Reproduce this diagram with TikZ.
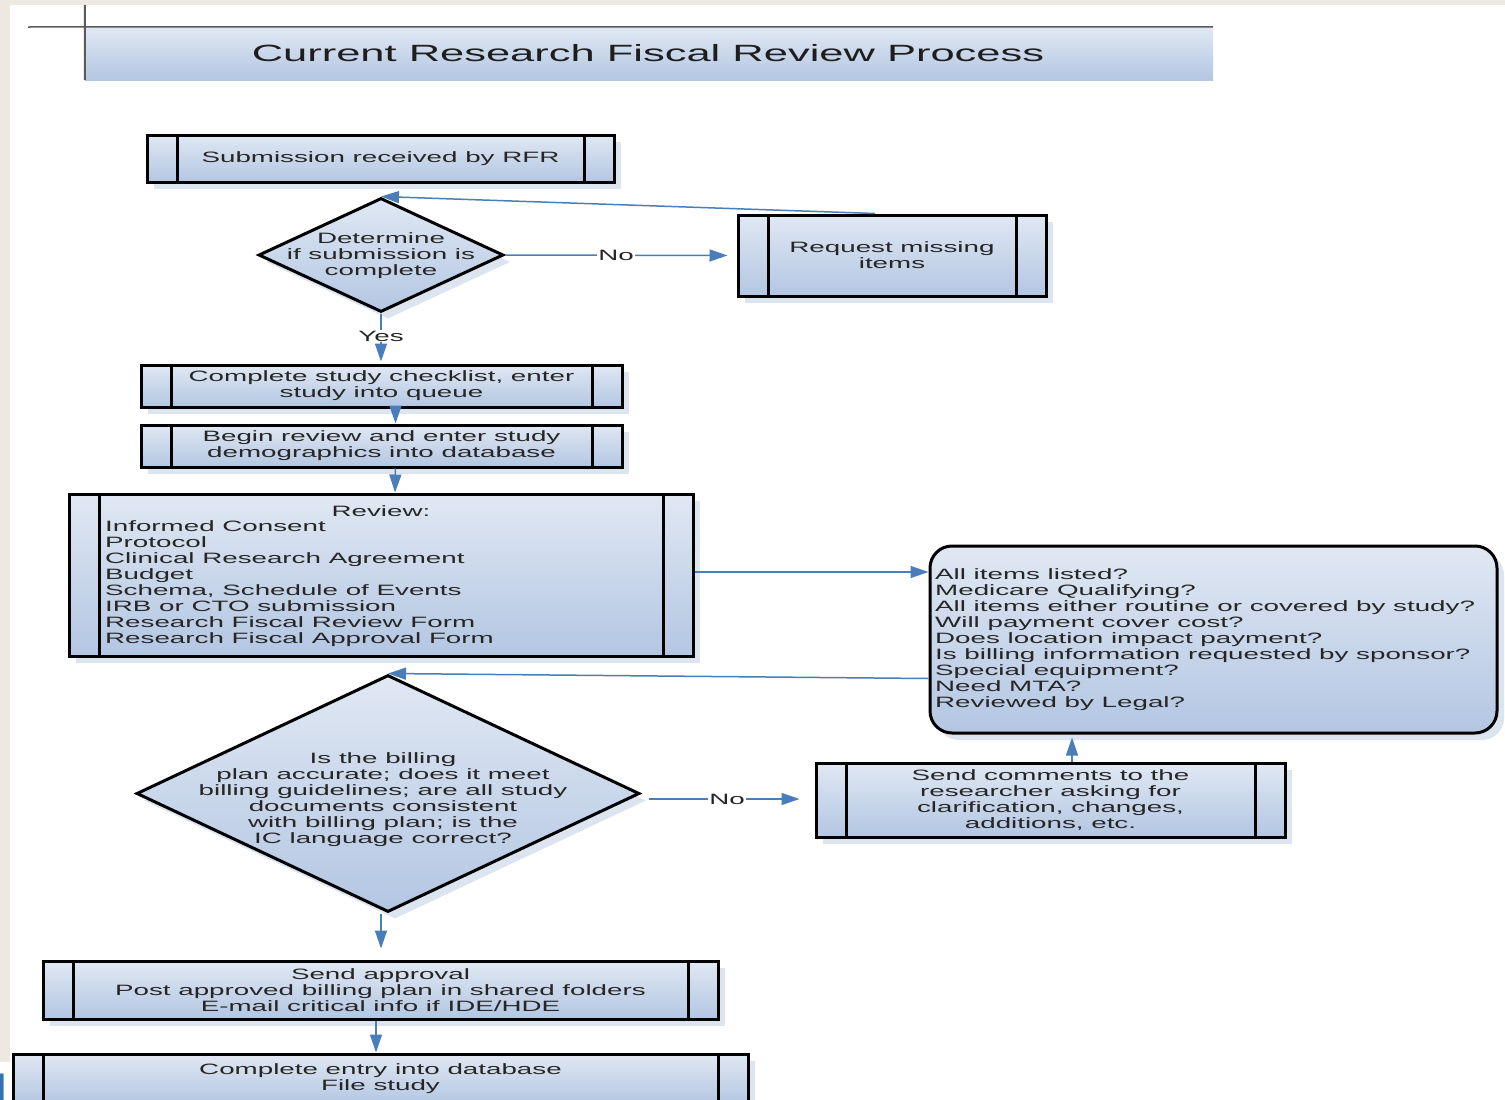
\documentclass[tikz,border=0pt]{standalone}
\usepackage{fontspec}
\setmainfont[FakeStretch=1.85]{Liberation Sans}
\usetikzlibrary{shapes.geometric,arrows.meta,shadows,calc}
\definecolor{beige}{HTML}{EEE8E2}
\definecolor{boxtop}{HTML}{E0E8F3}
\definecolor{boxbot}{HTML}{B3C6E2}
\definecolor{shadowc}{HTML}{DCE4F0}
\definecolor{linec}{HTML}{4A7EBB}
\definecolor{textc}{HTML}{262626}
\definecolor{titlec}{HTML}{1E1E1E}
\definecolor{framec}{HTML}{5A5A5A}
\definecolor{logoc}{HTML}{2E74B5}
\tikzset{
  txt/.style={font=\fontsize{15}{16}\selectfont, text=textc, align=center, inner sep=0pt},
  listtxt/.style={font=\fontsize{15}{16}\selectfont, text=textc, align=left, inner sep=0pt},
  shade/.style={top color=boxtop, bottom color=boxbot},
  shad/.style={drop shadow={shadow xshift=7pt, shadow yshift=-7pt, fill=shadowc, opacity=1}},
  proc/.style={txt, draw=black, line width=3pt, shade, shad,
    path picture={
      \draw[line width=3pt] ([xshift=30pt]path picture bounding box.north west) -- ([xshift=30pt]path picture bounding box.south west);
      \draw[line width=3pt] ([xshift=-30pt]path picture bounding box.north east) -- ([xshift=-30pt]path picture bounding box.south east);
    }},
  dia/.style={shape=diamond, draw=black, line width=3pt, shade, shad, inner sep=0pt},
  rbox/.style={draw=black, line width=3pt, rounded corners=22pt, shade, shad, inner sep=0pt},
  conn/.style={draw=linec, line width=1.5pt, -{Triangle[length=18pt,width=12pt]}},
  lab/.style={txt, fill=white, inner sep=1pt},
}
\begin{document}
\begin{tikzpicture}[x=1pt,y=-1pt]
\useasboundingbox (0,0) rectangle (1505,1100);
% background
\fill[beige] (0,0) rectangle (1505,1100);
\fill[white] (10,5) rectangle (1505,1100);
\fill[white] (0,1062) rectangle (10,1100);
\begin{scope}
  \clip (0,1062) rectangle (10,1100);
  \node[font=\fontsize{40}{40}\selectfont, text=logoc, anchor=east, inner sep=0pt] (mfrag) at (10,1088) {M};
\end{scope}
% title
\node[shade, minimum width=1128, minimum height=53, inner sep=0pt] (band) at (649,53.5) {};
\coordinate (tl) at (28,27);
\coordinate (vt) at (85,5);
\draw[framec, line width=1.5pt] (tl) -- (band.north east);
\draw[framec, line width=2pt] (vt) -- (band.south west);
\node[font=\fontsize{23.5}{26}\selectfont, text=titlec, inner sep=0pt] (title) at (648,53) {Current Research Fiscal Review Process};
% nodes
\node[proc, minimum width=467, minimum height=47] (sub) at (380.5,158.5) {Submission received by RFR};
\node[dia, minimum width=245, minimum height=114] (d1) at (381,255) {};
\node[txt] (d1t) at (381,255.5) {Determine\\if submission is\\complete};
\node[proc, minimum width=308, minimum height=81] (req) at (892,255.5) {Request missing\\items};
\node[proc, minimum width=481, minimum height=42] (chk) at (381.5,386) {Complete study checklist, enter\\study into queue};
\node[proc, minimum width=481, minimum height=42] (beg) at (381.5,446) {Begin review and enter study\\demographics into database};
\node[proc, minimum width=624, minimum height=162] (rev) at (381,575) {};
\node[txt] (revt) at (381,511.5) {Review:};
\node[listtxt, anchor=west] (revl) at (105,583.5) {Informed Consent\\Protocol\\Clinical Research Agreement\\Budget\\Schema, Schedule of Events\\IRB or CTO submission\\Research Fiscal Review Form\\Research Fiscal Approval Form};
\node[rbox, minimum width=567, minimum height=187] (qs) at (1213.5,639.5) {};
\node[listtxt, anchor=west] (qst) at (935,639.5) {All items listed?\\Medicare Qualifying?\\All items either routine or covered by study?\\Will payment cover cost?\\Does location impact payment?\\Is billing information requested by sponsor?\\Special equipment?\\Need MTA?\\Reviewed by Legal?};
\node[dia, minimum width=503, minimum height=237] (d2) at (388,793.5) {};
\node[txt] (d2t) at (383,799.5) {Is the billing\\plan accurate; does it meet\\billing guidelines; are all study\\documents consistent\\with billing plan; is the\\IC language correct?};
\node[proc, minimum width=469, minimum height=74] (cmt) at (1050.5,800) {Send comments to the\\researcher asking for\\clarification, changes,\\additions, etc.};
\node[proc, minimum width=675, minimum height=58] (apr) at (380.5,990) {Send approval\\Post approved billing plan in shared folders\\E-mail critical info if IDE/HDE};
\node[proc, minimum width=735, minimum height=50] (fin) at (380.5,1079) {Complete entry into database\\File study};
% connectors
\draw[conn, shorten >=9pt] (d1.east) -- node[lab, pos=0.48] (no1) {No} (req.west);
\draw[conn] ([xshift=-17pt]req.north) -- (d1.north);
\draw[conn, shorten >=2pt] (d1.south) -- node[lab, pos=0.45] (yes) {Yes} (d1.south |- chk.north);
\draw[conn] ([xshift=14pt]chk.south) -- ([xshift=14pt]beg.north);
\draw[conn] ([xshift=14pt]beg.south) -- ([xshift=14pt]rev.north);
\draw[conn] ([yshift=3pt]rev.east) -- ([yshift=3pt]rev.east -| qs.west);
\draw[conn] ([yshift=-39pt]qs.west) -- (d2.north);
\draw[conn, shorten >=23pt] ([xshift=8pt,yshift=-5.5pt]d2.east) -- node[lab, pos=0.45] (no2) {No} ([xshift=8pt,yshift=-5.5pt]d2.east -| cmt.west);
\draw[conn, shorten >=3pt] ([xshift=21.5pt]cmt.north) -- ([xshift=21.5pt]cmt.north |- qs.south);
\draw[conn, shorten >=11pt] ([xshift=-7pt]d2.south) -- ([xshift=-7pt]d2.south |- apr.north);
\draw[conn] ([xshift=-4.5pt]apr.south) -- ([xshift=-4.5pt]apr.south |- fin.north);
\end{tikzpicture}
\end{document}
